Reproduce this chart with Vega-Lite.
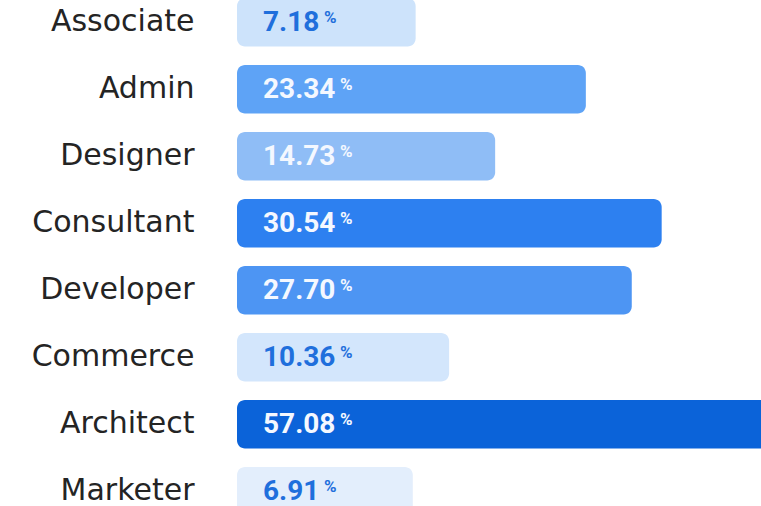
{
  "$schema": "https://vega.github.io/schema/vega-lite/v6.json",
  "width": 524,
  "height": 506,
  "autosize": "none",
  "padding": {"left": 237, "top": 0, "right": 0, "bottom": 0},
  "background": "white",
  "config": {"view": {"stroke": null}},
  "data": {"values": [
    {"role": "Associate", "value": 7.18},
    {"role": "Admin", "value": 23.34},
    {"role": "Designer", "value": 14.73},
    {"role": "Consultant", "value": 30.54},
    {"role": "Developer", "value": 27.70},
    {"role": "Commerce", "value": 10.36},
    {"role": "Architect", "value": 57.08},
    {"role": "Marketer", "value": 6.91}
  ]},
  "transform": [
    {"calculate": "format(datum.value, '.2f')", "as": "label"},
    {"calculate": "length(datum.label)", "as": "len"}
  ],
  "encoding": {
    "y": {
      "field": "role", "type": "nominal", "sort": null,
      "scale": {"range": [-2, 515.6], "paddingInner": 0.275, "paddingOuter": 0},
      "axis": {"title": null, "ticks": false, "domain": false, "labelPadding": 43, "labelFont": "DejaVu Sans", "labelFontSize": 30, "labelColor": "#242424", "labelAlign": "right", "labelBaseline": "middle"}
    }
  },
  "layer": [
    {
      "mark": {"type": "bar", "cornerRadius": 8, "clip": true},
      "encoding": {
        "x": {"field": "value", "type": "quantitative", "scale": {"domain": [-9.78, 39.97], "zero": false, "nice": false}, "axis": null},
        "x2": {"datum": -9.78},
        "color": {"field": "role", "type": "nominal", "legend": null,
          "scale": {"domain": ["Associate", "Admin", "Designer", "Consultant", "Developer", "Commerce", "Architect", "Marketer"],
                    "range": ["#cde3fb", "#5ea3f6", "#8fbdf6", "#2d80f0", "#4d95f3", "#d3e6fc", "#0b63d9", "#e3eefc"]}}
      }
    },
    {
      "mark": {"type": "text", "align": "left", "baseline": "middle", "dx": 26, "dy": 1, "font": "Roboto", "fontSize": 28, "fontWeight": "bold"},
      "encoding": {
        "x": {"datum": -9.78, "type": "quantitative"},
        "text": {"field": "label"},
        "color": {"condition": {"test": "datum.value > 12", "value": "#f4f8ff"}, "value": "#1f6fdc"}
      }
    },
    {
      "transform": [{"filter": "datum.len == 4"}],
      "mark": {"type": "text", "align": "left", "baseline": "middle", "dx": 87, "dy": -4, "font": "Roboto", "fontSize": 17, "fontWeight": "bold", "text": "%"},
      "encoding": {
        "x": {"datum": -9.78, "type": "quantitative"},
        "color": {"condition": {"test": "datum.value > 12", "value": "#f4f8ff"}, "value": "#1f6fdc"}
      }
    },
    {
      "transform": [{"filter": "datum.len == 5"}],
      "mark": {"type": "text", "align": "left", "baseline": "middle", "dx": 103, "dy": -4, "font": "Roboto", "fontSize": 17, "fontWeight": "bold", "text": "%"},
      "encoding": {
        "x": {"datum": -9.78, "type": "quantitative"},
        "color": {"condition": {"test": "datum.value > 12", "value": "#f4f8ff"}, "value": "#1f6fdc"}
      }
    }
  ]
}
